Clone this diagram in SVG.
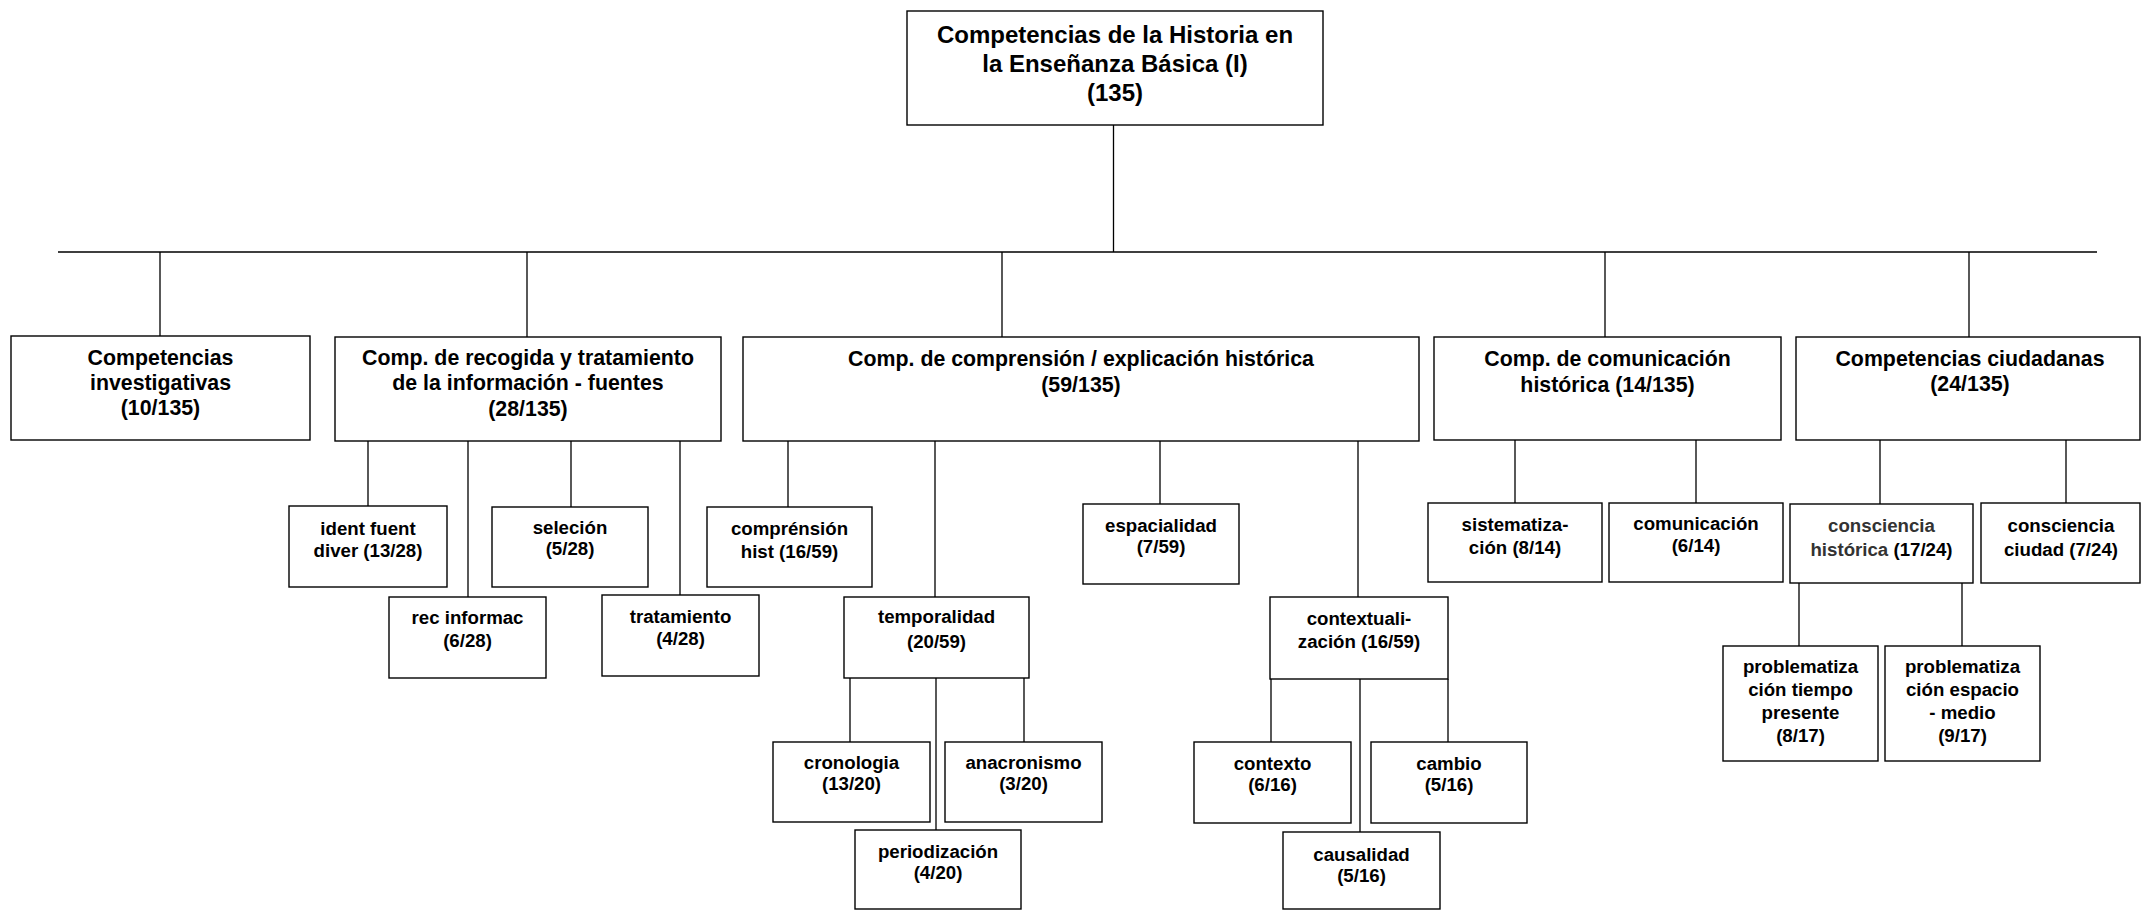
<svg xmlns="http://www.w3.org/2000/svg" width="2141" height="911" viewBox="0 0 2141 911">
  <style>
    rect { fill: #ffffff; stroke: #000000; stroke-width: 1.4; }
    .wire { stroke: #000000; stroke-width: 1.3; fill: none; }
    text { font-family: "Liberation Sans", Arial, sans-serif; font-weight: bold; fill: #000000; text-anchor: middle; }
    .t0 { font-size: 24px; }
    .t1 { font-size: 21.33px; }
    .t2 { font-size: 18.67px; }
    .soft { fill: #333333; }
  </style>
  <rect x="0" y="0" width="2141" height="911" style="stroke:none;fill:#ffffff"/>

  <!-- tree connectors -->
  <g id="connectors" class="wire">
    <path d="M1113.5 125 V252 M58 252 H2097"/>
    <path d="M160 252 V336 M527 252 V337 M1002 252 V337 M1605 252 V337 M1969 252 V337"/>
    <path d="M368 441 V506 M468 441 V597 M571 441 V507 M680 441 V595"/>
    <path d="M788 441 V507 M935 441 V597 M1160 441 V504 M1358 441 V597"/>
    <path d="M1515 440 V503 M1696 440 V503 M1880 440 V504 M2066 440 V503"/>
    <path d="M850 678 V742 M936 678 V830 M1024 678 V742"/>
    <path d="M1271 679 V742 M1360 679 V832 M1448 679 V742"/>
    <path d="M1799 583 V646 M1962 583 V646"/>
  </g>

  <!-- root -->
  <g id="root">
    <rect x="907" y="11" width="416" height="114"/>
    <text class="t0" x="1115" y="43">Competencias de la Historia en</text>
    <text class="t0" x="1115" y="72">la Enseñanza Básica (I)</text>
    <text class="t0" x="1115" y="101">(135)</text>
  </g>

  <!-- first level -->
  <g id="investigativas">
    <rect x="11" y="336" width="299" height="104"/>
    <text class="t1" x="160.5" y="365">Competencias</text>
    <text class="t1" x="160.5" y="390">investigativas</text>
    <text class="t1" x="160.5" y="415">(10/135)</text>
  </g>
  <g id="recogida">
    <rect x="335" y="337" width="386" height="104"/>
    <text class="t1" x="528" y="365">Comp. de recogida y tratamiento</text>
    <text class="t1" x="528" y="390">de la información - fuentes</text>
    <text class="t1" x="528" y="416">(28/135)</text>
  </g>
  <g id="comprension">
    <rect x="743" y="337" width="676" height="104"/>
    <text class="t1" x="1081" y="366">Comp. de comprensión / explicación histórica</text>
    <text class="t1" x="1081" y="392">(59/135)</text>
  </g>
  <g id="comunicacion">
    <rect x="1434" y="337" width="347" height="103"/>
    <text class="t1" x="1607.5" y="366">Comp. de comunicación</text>
    <text class="t1" x="1607.5" y="392">histórica (14/135)</text>
  </g>
  <g id="ciudadanas">
    <rect x="1796" y="337" width="344" height="103"/>
    <text class="t1" x="1970" y="366">Competencias ciudadanas</text>
    <text class="t1" x="1970" y="391">(24/135)</text>
  </g>

  <!-- second level -->
  <g id="ident-fuent">
    <rect x="289" y="506" width="158" height="81"/>
    <text class="t2" x="368" y="535">ident fuent</text>
    <text class="t2" x="368" y="557">diver (13/28)</text>
  </g>
  <g id="rec-informac">
    <rect x="389" y="597" width="157" height="81"/>
    <text class="t2" x="467.5" y="624">rec informac</text>
    <text class="t2" x="467.5" y="647">(6/28)</text>
  </g>
  <g id="seleccion">
    <rect x="492" y="507" width="156" height="80"/>
    <text class="t2" x="570" y="534">seleción</text>
    <text class="t2" x="570" y="555">(5/28)</text>
  </g>
  <g id="tratamiento">
    <rect x="602" y="595" width="157" height="81"/>
    <text class="t2" x="680.5" y="623">tratamiento</text>
    <text class="t2" x="680.5" y="645">(4/28)</text>
  </g>
  <g id="comprension-hist">
    <rect x="707" y="507" width="165" height="80"/>
    <text class="t2" x="789.5" y="535">comprénsión</text>
    <text class="t2" x="789.5" y="558">hist (16/59)</text>
  </g>
  <g id="temporalidad">
    <rect x="844" y="597" width="185" height="81"/>
    <text class="t2" x="936.5" y="623">temporalidad</text>
    <text class="t2" x="936.5" y="648">(20/59)</text>
  </g>
  <g id="espacialidad">
    <rect x="1083" y="504" width="156" height="80"/>
    <text class="t2" x="1161" y="532">espacialidad</text>
    <text class="t2" x="1161" y="553">(7/59)</text>
  </g>
  <g id="contextualizacion">
    <rect x="1270" y="597" width="178" height="82"/>
    <text class="t2" x="1359" y="625">contextuali-</text>
    <text class="t2" x="1359" y="648">zación (16/59)</text>
  </g>
  <g id="sistematizacion">
    <rect x="1428" y="503" width="174" height="79"/>
    <text class="t2" x="1515" y="531">sistematiza-</text>
    <text class="t2" x="1515" y="554">ción (8/14)</text>
  </g>
  <g id="comunicacion-sub">
    <rect x="1609" y="503" width="174" height="79"/>
    <text class="t2" x="1696" y="530">comunicación</text>
    <text class="t2" x="1696" y="552">(6/14)</text>
  </g>
  <g id="consciencia-historica">
    <rect x="1790" y="504" width="183" height="79"/>
    <text class="t2 soft" x="1881.5" y="532">consciencia</text>
    <text class="t2" x="1881.5" y="556"><tspan class="soft">histórica</tspan> (17/24)</text>
  </g>
  <g id="consciencia-ciudad">
    <rect x="1981" y="503" width="159" height="80"/>
    <text class="t2" x="2061" y="532">consciencia</text>
    <text class="t2" x="2061" y="556">ciudad (7/24)</text>
  </g>

  <!-- third level -->
  <g id="cronologia">
    <rect x="773" y="742" width="157" height="80"/>
    <text class="t2" x="851.5" y="769">cronologia</text>
    <text class="t2" x="851.5" y="790">(13/20)</text>
  </g>
  <g id="anacronismo">
    <rect x="945" y="742" width="157" height="80"/>
    <text class="t2" x="1023.5" y="769">anacronismo</text>
    <text class="t2" x="1023.5" y="790">(3/20)</text>
  </g>
  <g id="periodizacion">
    <rect x="855" y="830" width="166" height="79"/>
    <text class="t2" x="938" y="858">periodización</text>
    <text class="t2" x="938" y="879">(4/20)</text>
  </g>
  <g id="contexto">
    <rect x="1194" y="742" width="157" height="81"/>
    <text class="t2" x="1272.5" y="770">contexto</text>
    <text class="t2" x="1272.5" y="791">(6/16)</text>
  </g>
  <g id="cambio">
    <rect x="1371" y="742" width="156" height="81"/>
    <text class="t2" x="1449" y="770">cambio</text>
    <text class="t2" x="1449" y="791">(5/16)</text>
  </g>
  <g id="causalidad">
    <rect x="1283" y="832" width="157" height="77"/>
    <text class="t2" x="1361.5" y="861">causalidad</text>
    <text class="t2" x="1361.5" y="882">(5/16)</text>
  </g>
  <g id="problematizacion-tiempo">
    <rect x="1723" y="646" width="155" height="115"/>
    <text class="t2" x="1800.5" y="673">problematiza</text>
    <text class="t2" x="1800.5" y="696">ción tiempo</text>
    <text class="t2" x="1800.5" y="719">presente</text>
    <text class="t2" x="1800.5" y="742">(8/17)</text>
  </g>
  <g id="problematizacion-espacio">
    <rect x="1885" y="646" width="155" height="115"/>
    <text class="t2" x="1962.5" y="673">problematiza</text>
    <text class="t2" x="1962.5" y="696">ción espacio</text>
    <text class="t2" x="1962.5" y="719">- medio</text>
    <text class="t2" x="1962.5" y="742">(9/17)</text>
  </g>
</svg>
